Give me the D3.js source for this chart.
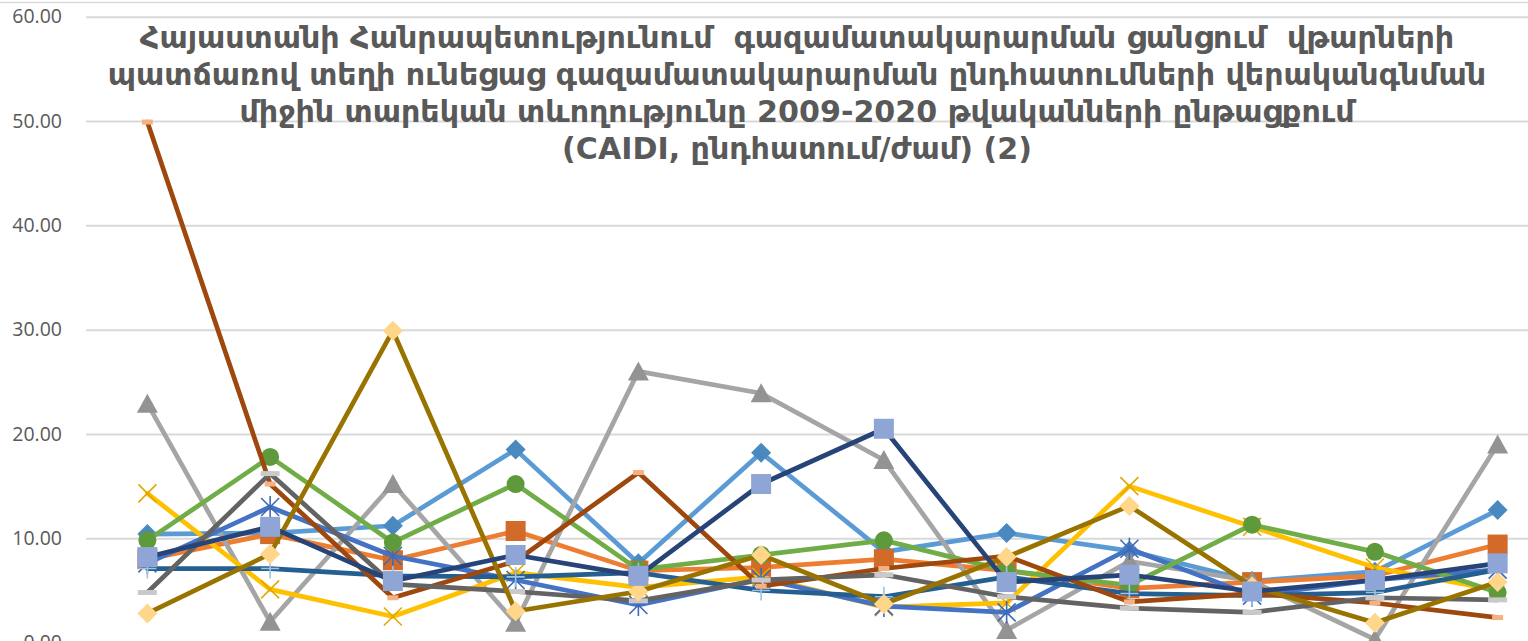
<!DOCTYPE html>
<html>
<head>
<meta charset="utf-8">
<script src="https://cdn.jsdelivr.net/npm/d3@7"></script>
<style>
  body { margin: 0; background: #fff; overflow: hidden; }
</style>
</head>
<body>
<div id="chart"></div>
<script>
// categories and ticks
const years = ["2009", "2010", "2011", "2012", "2013", "2014", "2015", "2016", "2017", "2018", "2019", "2020"];
const yTicks = [0, 10, 20, 30, 40, 50, 60];

const titleLines = [
    "Հայաստանի Հանրապետությունում  գազամատակարարման ցանցում  վթարների",
    "պատճառով տեղի ունեցաց գազամատակարարման ընդհատումների վերականգնման",
    "միջին տարեկան տևողությունը 2009-2020 թվականների ընթացքում",
    "(CAIDI, ընդհատում/ժամ) (2)"
];

// series values (no legend in the crop)
const lightBlueVals = [10.4, 10.5, 11.2, 18.5, 7.6, 18.2, 8.7, 10.5, 8.8, 5.9, 6.8, 12.7];
const orangeVals    = [8.0, 10.4, 7.9, 10.7, 6.9, 7.2, 8.0, 6.9, 5.2, 5.8, 6.4, 9.4];
const grayVals      = [22.9, 2.0, 15.2, 1.9, 26.0, 23.9, 17.5, 1.2, 7.8, 5.9, 0.3, 19.0];
const goldVals      = [14.3, 5.1, 2.5, 6.7, 5.3, 6.3, 3.4, 3.8, 15.0, 11.1, 7.2, 5.0];
const blueVals      = [7.6, 13.0, 8.3, 6.0, 3.6, 6.1, 3.5, 2.9, 9.0, 4.5, 6.0, 7.0];
const greenVals     = [9.8, 17.8, 9.6, 15.2, 7.0, 8.4, 9.8, 6.9, 5.5, 11.3, 8.7, 4.8];
const tealVals      = [7.1, 7.1, 6.4, 6.3, 6.7, 5.0, 4.4, 6.3, 4.7, 4.5, 4.8, 7.0];
const brownVals     = [49.9, 15.2, 4.3, 7.8, 16.3, 5.4, 7.1, 8.3, 3.9, 4.7, 3.8, 2.4];
const darkGrayVals  = [4.8, 16.2, 5.6, 4.9, 4.0, 6.0, 6.5, 4.4, 3.3, 2.9, 4.3, 4.1];
const oliveVals     = [2.8, 8.5, 29.9, 3.0, 4.9, 8.4, 3.7, 8.2, 13.1, 5.4, 1.9, 5.8];
const navyVals      = [8.2, 11.1, 5.9, 8.4, 6.4, 15.2, 20.5, 5.8, 6.5, 4.9, 6.0, 7.6];

// drawing order = Excel series order
const series = [
    {vals: lightBlueVals, line: "#5B9BD5", marker: "diamond", fill: "#4A89C0"},
    {vals: orangeVals,    line: "#ED7D31", marker: "square",  fill: "#D26B2A"},
    {vals: grayVals,      line: "#A5A5A5", marker: "triangle", fill: "#939393"},
    {vals: goldVals,      line: "#FFC000", marker: "x",       fill: "#E3A800"},
    {vals: blueVals,      line: "#4472C4", marker: "star",    fill: "#3F69B5"},
    {vals: greenVals,     line: "#70AD47", marker: "circle",  fill: "#5E9A3C"},
    {vals: tealVals,      line: "#255E91", marker: "plus",    fill: "#9DC3E6"},
    {vals: brownVals,     line: "#9E480E", marker: "dashS",   fill: "#F4B183"},
    {vals: darkGrayVals,  line: "#636363", marker: "dashL",   fill: "#C9C9C9"},
    {vals: oliveVals,     line: "#997300", marker: "diamond", fill: "#FFD68A"},
    {vals: navyVals,      line: "#264478", marker: "square",  fill: "#8FA5D6"}
];

const width = 1528, height = 641;

const svg = d3.select("#chart").append("svg")
    .attr("width", width)
    .attr("height", height)
    .style("display", "block");

svg.append("rect").attr("width", width).attr("height", height).attr("fill", "#fff");

// chart border line at the top of the crop
svg.append("line")
    .attr("x1", 0).attr("x2", width)
    .attr("y1", 2.5).attr("y2", 2.5)
    .attr("stroke", "#d9d9d9").attr("stroke-width", 1.5);

const plotLeft = 86;
const x = d3.scalePoint()
    .domain(years)
    .range([plotLeft, 1559])
    .padding(0.5);

const y = d3.scaleLinear()
    .domain([0, 60])
    .range([642.6, 16.7]);

// value axis with gridlines
const yAxis = d3.axisLeft(y)
    .tickValues(yTicks)
    .tickFormat(d3.format(".2f"))
    .tickSizeInner(-(width - plotLeft))
    .tickSizeOuter(0)
    .tickPadding(24);

const gy = svg.append("g")
    .attr("transform", `translate(${plotLeft},0)`)
    .call(yAxis);
gy.select(".domain").remove();
gy.selectAll(".tick line").attr("stroke", "#d9d9d9").attr("stroke-width", 2);
gy.selectAll(".tick text")
    .attr("fill", "#595959")
    .style("font-family", "'Open Sans', sans-serif")
    .style("font-size", "19.5px");

// title (keep the double spaces of the original)
const title = svg.append("g").attr("class", "title");
const titleBase = [48, 85, 122, 159];
title.selectAll("text")
    .data(titleLines)
    .enter()
    .append("text")
    .attr("x", 797)
    .attr("y", (d, i) => titleBase[i])
    .attr("text-anchor", "middle")
    .attr("fill", "#595959")
    .style("white-space", "pre")
    .style("font-family", "'DejaVu Sans', sans-serif")
    .style("font-weight", "bold")
    .style("font-size", "26px")
    .text(d => d);

// fit font size so the second line spans like the reference (~1379px)
const w2 = title.selectAll("text").nodes()[1].getComputedTextLength();
const fitted = 26 * 1379 / w2;
title.selectAll("text").style("font-size", fitted + "px");

// markers
function markerPath(type) {
    switch (type) {
        case "diamond": return "M0,-10L10,0L0,10L-10,0Z";
        case "square": return "M-10,-10H10V10H-10Z";
        case "triangle": return "M0,-10L10.5,9L-10.5,9Z";
        case "x": return "M-9,-9L9,9M-9,9L9,-9";
        case "star": return "M-9,-9L9,9M-9,9L9,-9M0,-11V11";
        case "plus": return "M-9,0H9M0,-10V10";
        case "dashS": return "M-5.5,-2.5H5.5V2.5H-5.5Z";
        case "dashL": return "M-9.5,-2.5H9.5V2.5H-9.5Z";
        default: return "";
    }
}
const strokeOnly = ["x", "star", "plus"];

const line = d3.line()
    .x((d, i) => x(years[i]))
    .y(d => y(d));

series.forEach(s => {
    const g = svg.append("g");
    g.append("path")
        .datum(s.vals)
        .attr("fill", "none")
        .attr("stroke", s.line)
        .attr("stroke-width", 4.7)
        .attr("stroke-linejoin", "round")
        .attr("stroke-linecap", "round")
        .attr("d", line);

    const pts = g.selectAll(".pt")
        .data(s.vals)
        .enter();

    if (s.marker === "circle") {
        pts.append("circle")
            .attr("cx", (d, i) => x(years[i]))
            .attr("cy", d => y(d))
            .attr("r", 9)
            .attr("fill", s.fill);
    } else {
        const stroked = strokeOnly.includes(s.marker);
        pts.append("path")
            .attr("transform", (d, i) => `translate(${x(years[i])},${y(d)})`)
            .attr("d", markerPath(s.marker))
            .attr("fill", stroked ? "none" : s.fill)
            .attr("stroke", stroked ? s.fill : "none")
            .attr("stroke-width", stroked ? 1.6 : 0);
    }
});
</script>
</body>
</html>
